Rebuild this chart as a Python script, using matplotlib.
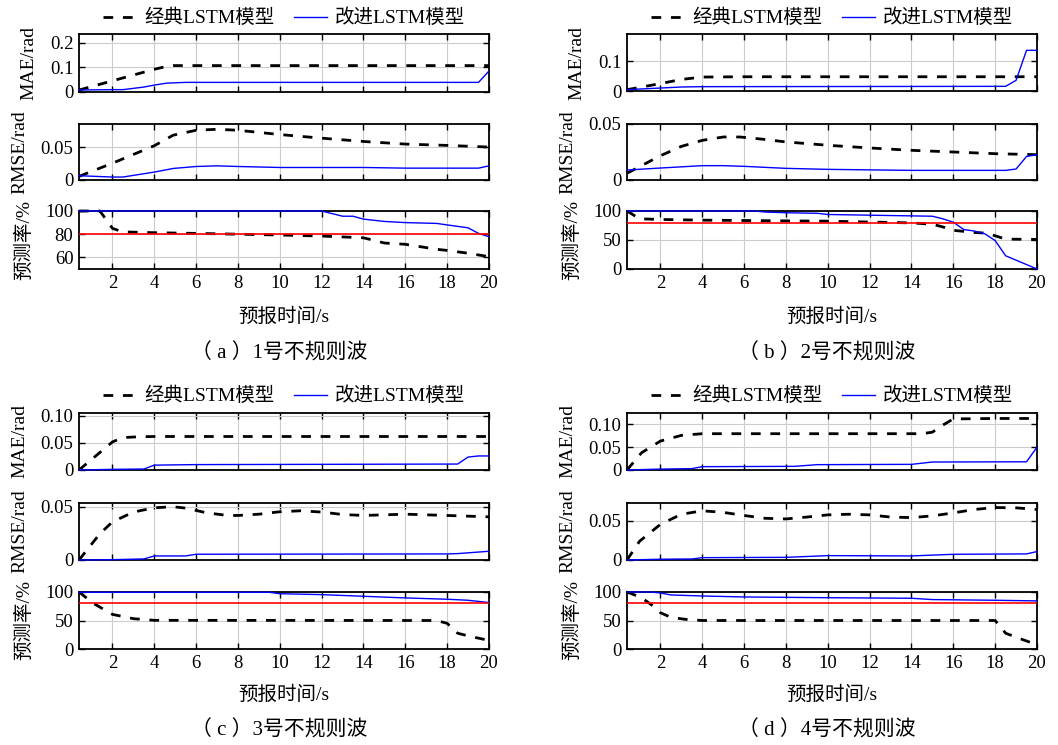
import matplotlib
matplotlib.use('Agg')
import matplotlib.pyplot as plt

plt.rcParams['font.family'] = ['Liberation Serif', 'Noto Sans CJK SC']
plt.rcParams['axes.unicode_minus'] = False

# ---------------- data ----------------
legend_labels = ['经典LSTM模型', '改进LSTM模型']
captions = ['（ a ）1号不规则波', '（ b ）2号不规则波', '（ c ）3号不规则波', '（ d ）4号不规则波']
ylabels = ['MAE/rad', 'RMSE/rad', '预测率/%']
xlabel = '预报时间/s'
xticks = [2, 4, 6, 8, 10, 12, 14, 16, 18, 20]
threshold = 80

# Panel a
a_mae_cls_x = [0.4, 4.0, 4.5, 4.9, 20]
a_mae_cls = [0.008, 0.092, 0.102, 0.107, 0.107]
a_mae_imp_x = [0.4, 2.0, 2.5, 3.5, 4.0, 4.6, 5.5, 19.5, 20]
a_mae_imp = [0.008, 0.0095, 0.0095, 0.02, 0.028, 0.036, 0.039, 0.039, 0.085]
a_rmse_cls_x = [0.4, 2, 4, 4.9, 6, 7, 8, 10, 12, 14, 16, 18, 20]
a_rmse_cls = [0.0055, 0.0255, 0.052, 0.068, 0.0755, 0.077, 0.0755, 0.069, 0.0635, 0.0585, 0.0545, 0.0525, 0.05]
a_rmse_imp_x = [0.4, 2, 2.5, 4, 4.9, 6, 7, 8, 10, 14, 16, 19.5, 20]
a_rmse_imp = [0.0065, 0.0045, 0.0045, 0.012, 0.0175, 0.0205, 0.0215, 0.0205, 0.019, 0.019, 0.018, 0.018, 0.0215]
a_pred_cls_x = [0.4, 1.4, 2, 2.5, 4, 6, 10, 12, 14, 15, 16, 17.5, 18, 19, 20]
a_pred_cls = [100, 100, 85, 82, 81.3, 80.7, 79.3, 78.4, 76.9, 72.4, 71.3, 67, 66, 63.6, 60.6]
a_pred_imp_x = [0.4, 12, 13, 13.5, 14, 15, 16, 17.5, 18, 19, 19.5, 20]
a_pred_imp = [100, 100, 95.5, 95.5, 93, 91, 90, 89.3, 88, 85.5, 80.7, 77.8]

# Panel b
b_mae_cls_x = [0.4, 2, 3, 4, 6, 20]
b_mae_cls = [0.0045, 0.025, 0.039, 0.047, 0.048, 0.048]
b_mae_imp_x = [0.4, 2, 3, 4, 18.5, 19, 19.5, 20]
b_mae_imp = [0.0045, 0.010, 0.0135, 0.0146, 0.0157, 0.036, 0.137, 0.137]
b_rmse_cls_x = [0.4, 2, 3, 4, 5, 5.8, 6.8, 8, 10, 12, 14, 16, 18, 20]
b_rmse_cls = [0.006, 0.0217, 0.030, 0.0354, 0.0384, 0.0384, 0.0366, 0.034, 0.031, 0.0286, 0.0265, 0.025, 0.0235, 0.0226]
b_rmse_imp_x = [0.4, 2, 4, 5, 6, 8, 10, 14, 18.5, 19, 19.5, 20]
b_rmse_imp = [0.0089, 0.0107, 0.0128, 0.0128, 0.0122, 0.0104, 0.0095, 0.0086, 0.0086, 0.0098, 0.021, 0.0226]
b_pred_cls_x = [0.4, 1, 2, 4, 8, 10, 14, 15, 15.5, 16, 17, 17.5, 18, 18.5, 20]
b_pred_cls = [100, 86.5, 85.4, 84.2, 83, 82.5, 79.5, 77.2, 72.5, 66.7, 63, 62, 57.3, 51.5, 51]
b_pred_imp_x = [0.4, 6.5, 7, 8, 9.5, 10, 11.6, 15, 15.5, 16, 16.5, 17, 17.5, 18, 18.5, 20]
b_pred_imp = [100, 100, 98.2, 97, 96, 94, 93, 91, 86.5, 80.7, 68, 65.5, 60.8, 49, 22.8, 0]

# Panel c
c_mae_cls_x = [0.4, 2, 2.5, 3.3, 4, 20]
c_mae_cls = [0, 0.052, 0.06, 0.0616, 0.062, 0.062]
c_mae_imp_x = [0.4, 2, 3.5, 4, 6, 18.5, 19, 19.5, 20]
c_mae_imp = [0, 0.0012, 0.0018, 0.009, 0.010, 0.011, 0.024, 0.026, 0.026]
c_rmse_cls_x = [0.4, 1.4, 2, 3, 4, 4.9, 5.5, 6.5, 7.5, 8, 9, 10, 11, 12, 13, 14, 16, 17, 18, 20]
c_rmse_cls = [0, 0.0247, 0.0358, 0.045, 0.049, 0.05, 0.0487, 0.0443, 0.0418, 0.0418, 0.043, 0.0453,
              0.0462, 0.045, 0.0427, 0.0418, 0.043, 0.0424, 0.0418, 0.0405]
c_rmse_imp_x = [0.4, 2, 3.5, 4, 5.5, 6, 18, 18.5, 20]
c_rmse_imp = [0, 0.0003, 0.001, 0.0038, 0.0038, 0.0054, 0.0057, 0.006, 0.0082]
c_pred_cls_x = [0.4, 1.1, 2, 3, 4, 17.5, 18, 18.5, 19, 20]
c_pred_cls = [100, 79.8, 60.7, 53.2, 50.3, 50, 45, 27.7, 23, 15]
c_pred_imp_x = [0.4, 9.5, 10, 12, 14, 16, 18, 19, 20]
c_pred_imp = [99.5, 99.5, 97, 95.4, 92.5, 89.6, 87.3, 85.5, 81.5]

# Panel d
d_mae_cls_x = [0.4, 1.1, 2, 3, 4, 14.5, 15, 15.5, 16, 18, 20]
d_mae_cls = [0, 0.038, 0.0635, 0.0759, 0.0796, 0.0796, 0.083, 0.0985, 0.112, 0.113, 0.113]
d_mae_imp_x = [0.4, 2, 3.5, 4, 8.4, 9.5, 14, 15, 19.5, 20]
d_mae_imp = [0, 0.002, 0.003, 0.0073, 0.008, 0.0117, 0.0124, 0.0175, 0.018, 0.05]
d_rmse_cls_x = [0.4, 1, 2, 3, 4, 5, 6, 7, 8, 9, 10, 11, 12, 13, 14, 15, 16, 17, 18, 19, 20]
d_rmse_cls = [0, 0.024, 0.0457, 0.0586, 0.063, 0.061, 0.057, 0.0534, 0.0526, 0.055, 0.0578, 0.0586,
              0.0578, 0.055, 0.0543, 0.0565, 0.0603, 0.0647, 0.0672, 0.0668, 0.0647]
d_rmse_imp_x = [0.4, 2, 3.5, 4, 8, 10, 14, 16, 19.5, 20]
d_rmse_imp = [0, 0.001, 0.0013, 0.003, 0.0034, 0.0056, 0.0052, 0.0073, 0.0078, 0.0108]
d_pred_cls_x = [0.4, 1.1, 1.7, 2, 2.5, 3.2, 4, 18, 18.5, 19.2, 20]
d_pred_cls = [100, 90, 74, 63.6, 55.5, 52, 50, 50, 27.7, 18, 7.5]
d_pred_imp_x = [0.4, 1.5, 2, 2.5, 4, 6, 10, 14, 15, 18, 20]
d_pred_imp = [100, 100, 98.3, 94.8, 93, 91.3, 90, 89, 86.7, 85.5, 84.4]

# y-axis ticks per panel (MAE, RMSE, pred)
a_yticks = [[0, 0.1, 0.2], [0, 0.05], [60, 80, 100]]
a_yticklabels = [['0', '0.1', '0.2'], ['0', '0.05'], ['60', '80', '100']]
b_yticks = [[0, 0.1], [0, 0.05], [0, 50, 100]]
b_yticklabels = [['0', '0.1'], ['0', '0.05'], ['0', '50', '100']]
c_yticks = [[0, 0.05, 0.10], [0, 0.05], [0, 50, 100]]
c_yticklabels = [['0', '0.05', '0.10'], ['0', '0.05'], ['0', '50', '100']]
d_yticks = [[0, 0.05, 0.10], [0, 0.05], [0, 50, 100]]
d_yticklabels = [['0', '0.05', '0.10'], ['0', '0.05'], ['0', '50', '100']]

a_ylims = [(0, 0.235), (0, 0.085), (50, 100)]
b_ylims = [(0, 0.192), (0, 0.05), (0, 100)]
c_ylims = [(0, 0.1055), (0, 0.0535), (0, 100)]
d_ylims = [(0, 0.125), (0, 0.073), (0, 100)]
xlim = (0.4, 20)

panels = [
    dict(series=[(a_mae_cls_x, a_mae_cls, a_mae_imp_x, a_mae_imp),
                 (a_rmse_cls_x, a_rmse_cls, a_rmse_imp_x, a_rmse_imp),
                 (a_pred_cls_x, a_pred_cls, a_pred_imp_x, a_pred_imp)],
         yticks=a_yticks, yticklabels=a_yticklabels, ylims=a_ylims,
         xpix=(79, 489), ypix=[(34, 92), (124, 180), (211, 269)], leg_y=18, xl_y=317, cap_y=353),
    dict(series=[(b_mae_cls_x, b_mae_cls, b_mae_imp_x, b_mae_imp),
                 (b_rmse_cls_x, b_rmse_cls, b_rmse_imp_x, b_rmse_imp),
                 (b_pred_cls_x, b_pred_cls, b_pred_imp_x, b_pred_imp)],
         yticks=b_yticks, yticklabels=b_yticklabels, ylims=b_ylims,
         xpix=(627, 1037), ypix=[(34, 91), (124, 180), (211, 269)], leg_y=18, xl_y=317, cap_y=353),
    dict(series=[(c_mae_cls_x, c_mae_cls, c_mae_imp_x, c_mae_imp),
                 (c_rmse_cls_x, c_rmse_cls, c_rmse_imp_x, c_rmse_imp),
                 (c_pred_cls_x, c_pred_cls, c_pred_imp_x, c_pred_imp)],
         yticks=c_yticks, yticklabels=c_yticklabels, ylims=c_ylims,
         xpix=(79, 489), ypix=[(413, 470), (503, 560), (592, 649)], leg_y=396, xl_y=695, cap_y=730),
    dict(series=[(d_mae_cls_x, d_mae_cls, d_mae_imp_x, d_mae_imp),
                 (d_rmse_cls_x, d_rmse_cls, d_rmse_imp_x, d_rmse_imp),
                 (d_pred_cls_x, d_pred_cls, d_pred_imp_x, d_pred_imp)],
         yticks=d_yticks, yticklabels=d_yticklabels, ylims=d_ylims,
         xpix=(627, 1037), ypix=[(413, 470), (503, 560), (592, 649)], leg_y=396, xl_y=695, cap_y=730),
]

W, H = 1058, 745
fig = plt.figure(figsize=(W / 100, H / 100), dpi=100)

FS = 13.5
for p, cap in zip(panels, captions):
    x0, x1 = p['xpix']
    axes = []
    for i, (y0, y1) in enumerate(p['ypix']):
        ax = fig.add_axes([x0 / W, 1 - y1 / H, (x1 - x0) / W, (y1 - y0) / H])
        axes.append(ax)
        cx, cy, ix, iy = p['series'][i]
        l1, = ax.plot(cx, cy, color='black', lw=2.0, linestyle=(0, (3.5, 3.5)),
                      label=legend_labels[0], zorder=3, clip_on=False)
        l2, = ax.plot(ix, iy, color='#0000ff', lw=1.0, label=legend_labels[1], zorder=4,
                      clip_on=False)
        if i == 2:
            ax.axhline(threshold, color='#ff0000', lw=1.2, zorder=5)
        ax.set_xlim(*xlim)
        ax.set_ylim(*p['ylims'][i])
        ax.set_xticks(xticks)
        ax.set_yticks(p['yticks'][i])
        ax.set_yticklabels(p['yticklabels'][i])
        ax.grid(True, color='#cccccc', lw=0.8)
        ax.set_axisbelow(True)
        ax.tick_params(direction='in', top=True, right=True, length=4, width=1,
                       labelsize=FS, pad=4)
        if i < 2:
            ax.tick_params(labelbottom=False)
        for s in ax.spines.values():
            s.set_linewidth(1.3)
        ax.set_ylabel(ylabels[i], fontsize=14, labelpad=9)
    leg_cx = (x0 + x1) / 2 / W
    axes[0].legend(handles=[l1, l2], loc='center', bbox_to_anchor=(leg_cx, 1 - p['leg_y'] / H),
                   bbox_transform=fig.transFigure, ncol=2, frameon=False, fontsize=14,
                   handlelength=1.7, handletextpad=0.4, columnspacing=1.0)
    fig.text(leg_cx, 1 - p['xl_y'] / H, xlabel, ha='center', va='center', fontsize=14)
    fig.text(leg_cx - 5 / W, 1 - p['cap_y'] / H, cap, ha='center', va='center', fontsize=15)

fig.savefig('out.png', dpi=100)
